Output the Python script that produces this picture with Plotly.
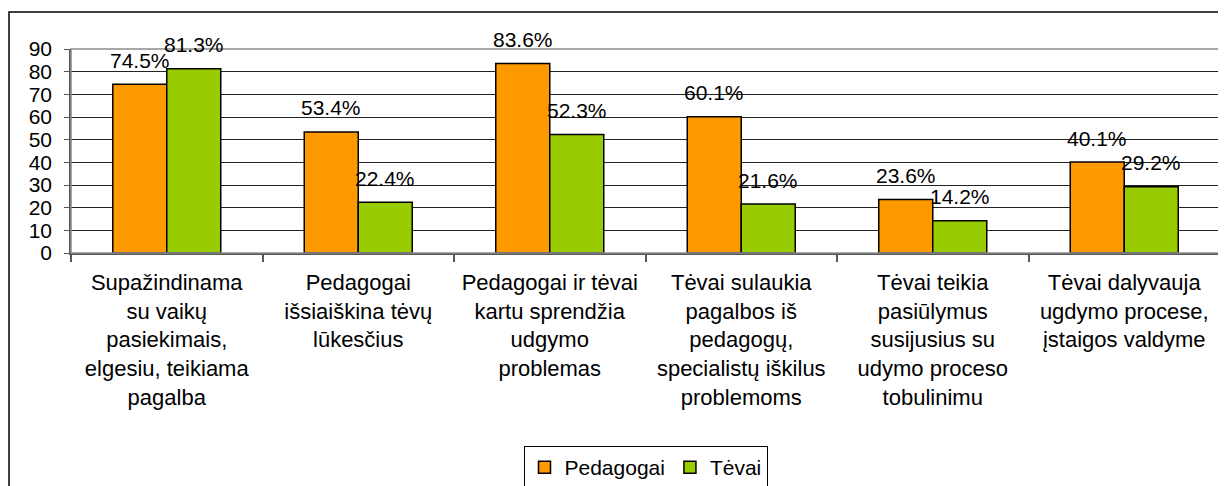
import plotly.graph_objects as go

categories = [
    "Supažindinama<br>su vaikų<br>pasiekimais,<br>elgesiu, teikiama<br>pagalba",
    "Pedagogai<br>išsiaiškina tėvų<br>lūkesčius",
    "Pedagogai ir tėvai<br>kartu sprendžia<br>udgymo<br>problemas",
    "Tėvai sulaukia<br>pagalbos iš<br>pedagogų,<br>specialistų iškilus<br>problemoms",
    "Tėvai teikia<br>pasiūlymus<br>susijusius su<br>udymo proceso<br>tobulinimu",
    "Tėvai dalyvauja<br>ugdymo procese,<br>įstaigos valdyme",
]
pedagogai = [74.5, 53.4, 83.6, 60.1, 23.6, 40.1]
tevai = [81.3, 22.4, 52.3, 21.6, 14.2, 29.2]
y_ticks = [0, 10, 20, 30, 40, 50, 60, 70, 80, 90]

FONT = "Liberation Sans, Arial, sans-serif"
ORANGE = "#FF9900"
GREEN = "#99CC00"
BARGAP = 0.436

# page body has an 8px margin: figure geometry is laid out relative to that
W, H = 1218, 478
ML, MR, MT, MB = 63, 6, 41, 233
PW = W - ML - MR
PH = H - MT - MB

fig = go.Figure()
fig.add_trace(go.Bar(name="Pedagogai", x=categories, y=pedagogai,
                     marker=dict(color=ORANGE, line=dict(color="black", width=1.5))))
fig.add_trace(go.Bar(name="Tėvai", x=categories, y=tevai,
                     marker=dict(color=GREEN, line=dict(color="black", width=1.5))))

half = (1 - BARGAP) / 4
for i in range(len(categories)):
    for val, off in ((pedagogai[i], -half), (tevai[i], half)):
        fig.add_annotation(x=i + off, y=val, xref="x", yref="y",
                           text=f"{val:.1f}%", showarrow=False,
                           yanchor="middle", yshift=24,
                           font=dict(family=FONT, size=21, color="black"))

# plot-area border (top/right gray)
fig.add_shape(type="rect", xref="x domain", yref="y domain", x0=0, x1=1, y0=0, y1=1,
              line=dict(color="#8c8c8c", width=1.5), layer="above")
# outer chart frame (extends past the right and bottom edges)
fig.add_shape(type="rect", xref="paper", yref="paper",
              x0=(1 - ML) / PW, x1=1.05, y0=(MT + PH - 4) / PH, y1=-1.5,
              line=dict(color="black", width=1.5), layer="below")

fig.update_layout(
    width=W, height=H,
    margin=dict(l=ML, r=MR, t=MT, b=MB, autoexpand=False),
    paper_bgcolor="white", plot_bgcolor="white",
    barmode="group", bargap=BARGAP, bargroupgap=0,
    font=dict(family=FONT, size=21, color="black"),
    showlegend=True,
    legend=dict(orientation="h", x=0.5, xanchor="center", yref="container",
                y=(H - 438) / H, yanchor="top",
                bordercolor="black", borderwidth=1, bgcolor="white",
                font=dict(family=FONT, size=21, color="black"),
                itemwidth=30, traceorder="normal"),
)
fig.update_xaxes(showline=True, linecolor="#555555", linewidth=1.5,
                 ticks="outside", ticklen=7, tickcolor="#555555", tickwidth=1.5,
                 tickson="boundaries", showgrid=False,
                 tickfont=dict(family=FONT, size=22, color="black"),
                 ticklabelstandoff=9)
fig.update_yaxes(range=[0, 90], tickvals=y_ticks, showline=True, linecolor="#555555",
                 linewidth=1.5, ticks="outside", ticklen=5, tickcolor="#555555",
                 showgrid=True, gridcolor="#222222", gridwidth=1, zeroline=False,
                 tickfont=dict(family=FONT, size=21, color="black"),
                 ticklabelstandoff=8)

fig.write_html("out.html")
